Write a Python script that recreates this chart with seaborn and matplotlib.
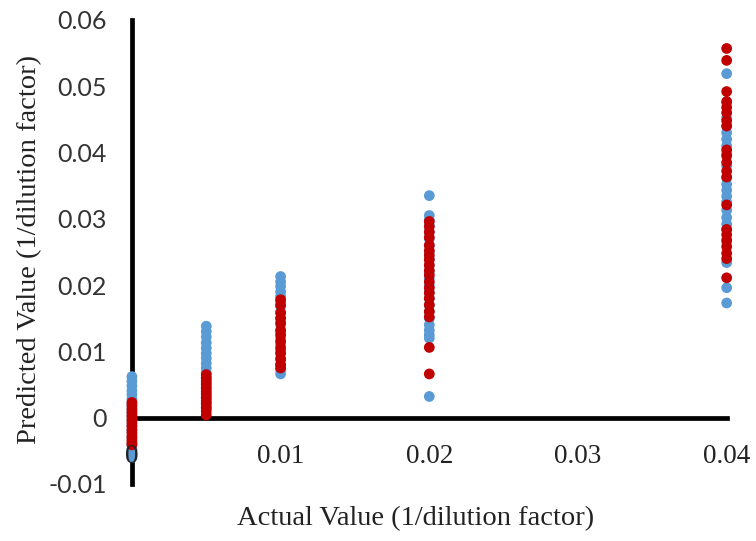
import matplotlib
matplotlib.use("Agg")
import matplotlib.pyplot as plt
import seaborn as sns
import pandas as pd

# Predicted concentrations (1/dilution factor) for each actual dilution level
blue_x0 = [0.0062, 0.0055, 0.0048, 0.0041, 0.0035, 0.0028, 0.0021, 0.0015, 0.0009,
           0.0003, -0.0004, -0.0012, -0.0020, -0.0030, -0.0040, -0.0048, -0.0055, -0.0060]
red_x0 = [0.0023, 0.0018, 0.0012, 0.0007, 0.0002, -0.0003, -0.0008, -0.0013, -0.0018,
          -0.0023, -0.0028, -0.0033, -0.0037, -0.0041]

blue_x005 = [0.0138, 0.0130, 0.0122, 0.0113, 0.0105, 0.0097, 0.0090, 0.0082, 0.0075,
             0.0068, 0.0060, 0.0052, 0.0045, 0.0037, 0.0030, 0.0022, 0.0015]
red_x005 = [0.0065, 0.0060, 0.0055, 0.0050, 0.0045, 0.0040, 0.0035, 0.0030, 0.0025,
            0.0020, 0.0015, 0.0010, 0.0004]

blue_x01 = [0.0213, 0.0205, 0.0198, 0.0190, 0.0183, 0.0175, 0.0168, 0.0160, 0.0150,
            0.0140, 0.0130, 0.0120, 0.0110, 0.0100, 0.0090, 0.0080, 0.0072, 0.0066]
red_x01 = [0.0178, 0.0170, 0.0158, 0.0150, 0.0143, 0.0132, 0.0125, 0.0115, 0.0105,
           0.0097, 0.0088, 0.0080, 0.0075]

blue_x02 = [0.0335, 0.0305, 0.0298, 0.0290, 0.0280, 0.0270, 0.0260, 0.0250, 0.0240,
            0.0230, 0.0220, 0.0210, 0.0200, 0.0190, 0.0180, 0.0170, 0.0160, 0.0150,
            0.0140, 0.0132, 0.0125, 0.0120, 0.0032]
red_x02 = [0.0296, 0.0288, 0.0280, 0.0272, 0.0260, 0.0252, 0.0245, 0.0238, 0.0230,
           0.0222, 0.0215, 0.0205, 0.0196, 0.0188, 0.0180, 0.0170, 0.0160, 0.0152,
           0.0106, 0.0066]

blue_x04 = [0.0519, 0.0475, 0.0452, 0.0440, 0.0430, 0.0420, 0.0410, 0.0398, 0.0380,
            0.0362, 0.0352, 0.0343, 0.0334, 0.0325, 0.0313, 0.0302, 0.0292, 0.0284,
            0.0265, 0.0234, 0.0196, 0.0173]
red_x04 = [0.0557, 0.0539, 0.0492, 0.0477, 0.0468, 0.0460, 0.0448, 0.0440, 0.0404,
           0.0395, 0.0385, 0.0372, 0.0363, 0.0321, 0.0284, 0.0276, 0.0268, 0.0258,
           0.0248, 0.0240, 0.0211]

actual_levels = [0.0, 0.005, 0.01, 0.02, 0.04]
blue_series = [blue_x0, blue_x005, blue_x01, blue_x02, blue_x04]
red_series = [red_x0, red_x005, red_x01, red_x02, red_x04]

x_ticks = [0.0, 0.01, 0.02, 0.03, 0.04]
x_tick_labels = ["0", "0.01", "0.02", "0.03", "0.04"]
y_ticks = [-0.01, 0.0, 0.01, 0.02, 0.03, 0.04, 0.05, 0.06]
y_tick_labels = ["-0.01", "0", "0.01", "0.02", "0.03", "0.04", "0.05", "0.06"]

rows = []
for series_name, groups in (("A", blue_series), ("B", red_series)):
    for level, values in zip(actual_levels, groups):
        for v in values:
            rows.append({"actual": level, "predicted": v, "series": series_name})
df = pd.DataFrame(rows)

sns.set_style("white")
fig = plt.figure(figsize=(7.56, 5.41), dpi=100)
ax = fig.add_axes([0.1627, 0.1054, 0.828, 0.8577])

sns.scatterplot(data=df, x="actual", y="predicted", hue="series",
                palette={"A": "#5B9BD5", "B": "#C00000"},
                s=60, linewidth=0, legend=False, ax=ax, zorder=3)

ax.set_xlim(-0.0006, 0.0415)
ax.set_ylim(-0.01, 0.06)

# Axes crossing at the origin, Excel style
for side in ("top", "right"):
    ax.spines[side].set_visible(False)
ax.spines["left"].set_position(("data", 0))
ax.spines["bottom"].set_position(("data", 0))
ax.spines["left"].set_bounds(-0.01, 0.06)
ax.spines["bottom"].set_bounds(0, 0.04)
for side in ("left", "bottom"):
    ax.spines[side].set_linewidth(3.4)
    ax.spines[side].set_color("black")
    ax.spines[side].set_zorder(2)

ax.set_xticks(x_ticks)
ax.set_xticklabels(x_tick_labels, fontfamily="Liberation Serif", fontsize=19.5,
                   color="#222222")
ax.set_yticks(y_ticks)
ax.set_yticklabels(y_tick_labels, fontfamily="Lato", fontsize=18, color="#333333")
ax.tick_params(axis="both", length=0)
ax.tick_params(axis="x", pad=19)
ax.tick_params(axis="y", pad=18)
ax.xaxis.set_zorder(4)

ax.set_xlabel("Actual Value (1/dilution factor)", fontfamily="Liberation Serif",
              fontsize=20.5, color="#222222")
ax.set_ylabel("Predicted Value (1/dilution factor)", fontfamily="Liberation Serif",
              fontsize=20.5, color="#222222")
ax.xaxis.set_label_coords(0.468, -0.048)
ax.yaxis.set_label_coords(-0.13, 0.505)

fig.savefig("out.png", dpi=100, facecolor="white")
